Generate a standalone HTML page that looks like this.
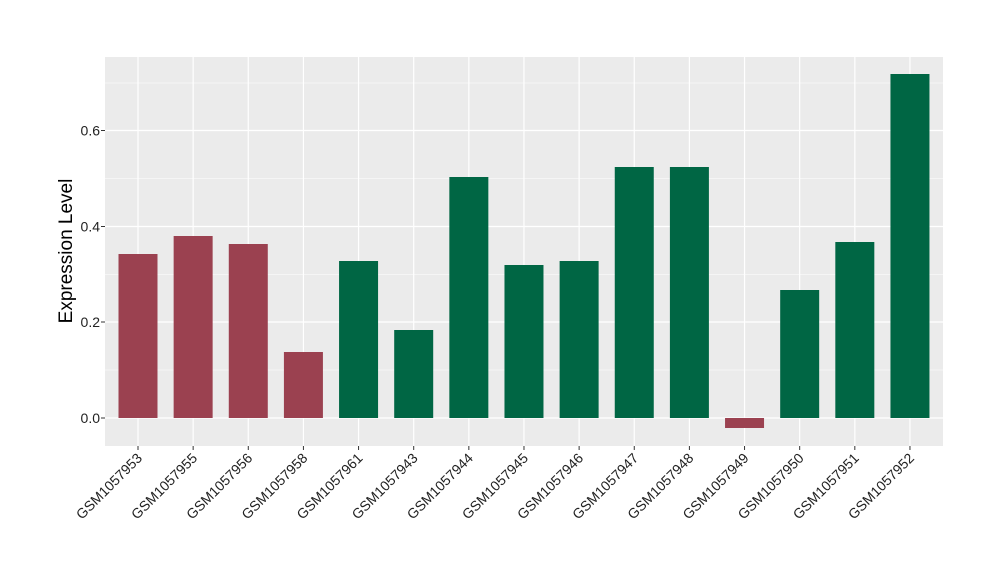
<!DOCTYPE html><html><head><style>body{margin:0;background:#fff}svg text{font-family:"Liberation Sans",sans-serif}</style></head><body>
<svg width="1000" height="580" xmlns="http://www.w3.org/2000/svg">
<rect x="105" y="57" width="838" height="389" fill="#ebebeb"/>
<g stroke="#fff" stroke-width="0.6">
<line x1="105" x2="943" y1="370" y2="370"/><line x1="105" x2="943" y1="274.5" y2="274.5"/><line x1="105" x2="943" y1="178.5" y2="178.5"/><line x1="105" x2="943" y1="83" y2="83"/>
</g>
<g stroke="#fff" stroke-width="1.2">
<line x1="105" x2="943" y1="418" y2="418"/><line x1="105" x2="943" y1="322" y2="322"/><line x1="105" x2="943" y1="226.5" y2="226.5"/><line x1="105" x2="943" y1="130.5" y2="130.5"/>
<line x1="138" x2="138" y1="57" y2="446"/><line x1="193.14" x2="193.14" y1="57" y2="446"/><line x1="248.28" x2="248.28" y1="57" y2="446"/><line x1="303.42" x2="303.42" y1="57" y2="446"/><line x1="358.56" x2="358.56" y1="57" y2="446"/><line x1="413.7" x2="413.7" y1="57" y2="446"/><line x1="468.84" x2="468.84" y1="57" y2="446"/><line x1="523.98" x2="523.98" y1="57" y2="446"/><line x1="579.12" x2="579.12" y1="57" y2="446"/><line x1="634.26" x2="634.26" y1="57" y2="446"/><line x1="689.4" x2="689.4" y1="57" y2="446"/><line x1="744.54" x2="744.54" y1="57" y2="446"/><line x1="799.68" x2="799.68" y1="57" y2="446"/><line x1="854.82" x2="854.82" y1="57" y2="446"/><line x1="909.96" x2="909.96" y1="57" y2="446"/>
</g>
<g fill="#006644">
<rect x="118.5" y="254" width="39" height="164" fill="#9b4150"/>
<rect x="173.64" y="236" width="39" height="182" fill="#9b4150"/>
<rect x="228.78" y="244" width="39" height="174" fill="#9b4150"/>
<rect x="283.92" y="352" width="39" height="66" fill="#9b4150"/>
<rect x="339.06" y="261" width="39" height="157"/>
<rect x="394.2" y="330" width="39" height="88"/>
<rect x="449.34" y="177" width="39" height="241"/>
<rect x="504.48" y="265" width="39" height="153"/>
<rect x="559.62" y="261" width="39" height="157"/>
<rect x="614.76" y="167" width="39" height="251"/>
<rect x="669.9" y="167" width="39" height="251"/>
<rect x="725.04" y="418" width="39" height="10" fill="#9b4150"/>
<rect x="780.18" y="290" width="39" height="128"/>
<rect x="835.32" y="242" width="39" height="176"/>
<rect x="890.46" y="74" width="39" height="344"/>
</g>
<g font-size="14" fill="#222" text-anchor="end">
<text x="100" y="423">0.0</text><text x="100" y="327">0.2</text><text x="100" y="231.5">0.4</text><text x="100" y="135.5">0.6</text>
</g>
<g stroke="#333"><line x1="101" x2="105" y1="418" y2="418"/><line x1="101" x2="105" y1="322" y2="322"/><line x1="101" x2="105" y1="226.5" y2="226.5"/><line x1="101" x2="105" y1="130.5" y2="130.5"/>
<line x1="138" x2="138" y1="446" y2="450"/><line x1="193.14" x2="193.14" y1="446" y2="450"/><line x1="248.28" x2="248.28" y1="446" y2="450"/><line x1="303.42" x2="303.42" y1="446" y2="450"/><line x1="358.56" x2="358.56" y1="446" y2="450"/><line x1="413.7" x2="413.7" y1="446" y2="450"/><line x1="468.84" x2="468.84" y1="446" y2="450"/><line x1="523.98" x2="523.98" y1="446" y2="450"/><line x1="579.12" x2="579.12" y1="446" y2="450"/><line x1="634.26" x2="634.26" y1="446" y2="450"/><line x1="689.4" x2="689.4" y1="446" y2="450"/><line x1="744.54" x2="744.54" y1="446" y2="450"/><line x1="799.68" x2="799.68" y1="446" y2="450"/><line x1="854.82" x2="854.82" y1="446" y2="450"/><line x1="909.96" x2="909.96" y1="446" y2="450"/></g>
<text transform="translate(72,251) rotate(-90)" font-size="19" text-anchor="middle" fill="#000">Expression Level</text>
<g font-size="14" fill="#222" text-anchor="end">
<text transform="translate(143,459) rotate(-45)">GSM1057953</text>
<text transform="translate(198.14,459) rotate(-45)">GSM1057955</text>
<text transform="translate(253.28,459) rotate(-45)">GSM1057956</text>
<text transform="translate(308.42,459) rotate(-45)">GSM1057958</text>
<text transform="translate(363.56,459) rotate(-45)">GSM1057961</text>
<text transform="translate(418.7,459) rotate(-45)">GSM1057943</text>
<text transform="translate(473.84,459) rotate(-45)">GSM1057944</text>
<text transform="translate(528.98,459) rotate(-45)">GSM1057945</text>
<text transform="translate(584.12,459) rotate(-45)">GSM1057946</text>
<text transform="translate(639.26,459) rotate(-45)">GSM1057947</text>
<text transform="translate(694.4,459) rotate(-45)">GSM1057948</text>
<text transform="translate(749.54,459) rotate(-45)">GSM1057949</text>
<text transform="translate(804.68,459) rotate(-45)">GSM1057950</text>
<text transform="translate(859.82,459) rotate(-45)">GSM1057951</text>
<text transform="translate(914.96,459) rotate(-45)">GSM1057952</text>
</g>
</svg></body></html>
